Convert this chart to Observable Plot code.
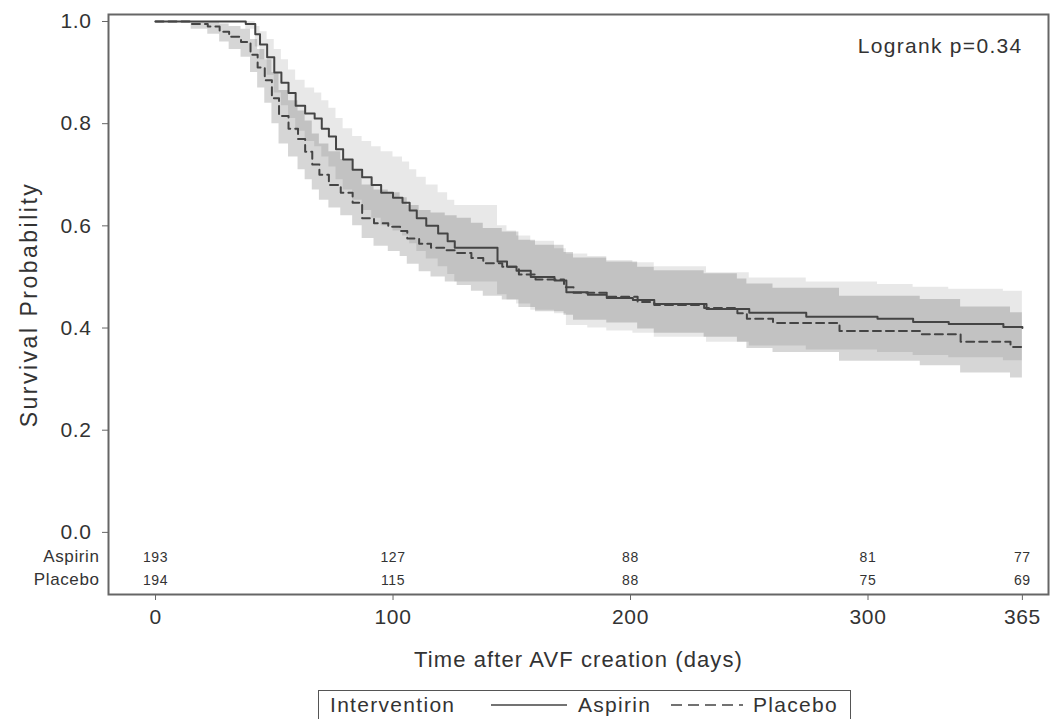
<!DOCTYPE html>
<html><head><meta charset="utf-8">
<script src="https://cdn.jsdelivr.net/npm/d3@7"></script>
<script src="https://cdn.jsdelivr.net/npm/@observablehq/plot@0.6"></script>
<style>
body{margin:0;background:#fff;font-family:Arial,"Liberation Sans",sans-serif;}
#wrap{position:relative;width:1060px;height:719px;overflow:hidden;background:#fff;}
#legend{position:absolute;left:318px;top:690px;width:533px;height:40px;border:1.5px solid #555;box-sizing:border-box;font-size:21px;letter-spacing:1.3px;color:#333;}
#legend span{position:absolute;top:2px;line-height:24px;}
#legend svg{position:absolute;top:0;}
</style></head><body><div id="wrap"></div>
<script>
// Kaplan-Meier estimates
const aspirinDay   = [0, 38, 42, 44, 47, 50, 53, 56, 59, 63, 67, 70, 73, 76, 79, 83, 87, 91, 95, 100, 104, 107, 110, 114, 119, 123, 126, 144, 148, 152, 158, 168, 173, 182, 190, 201, 210, 232, 250, 274, 304, 319, 334, 357, 365];
const aspirinSurv  = [1, 0.995, 0.975, 0.955, 0.93, 0.9, 0.88, 0.86, 0.835, 0.82, 0.81, 0.79, 0.775, 0.75, 0.73, 0.71, 0.695, 0.68, 0.665, 0.655, 0.645, 0.63, 0.615, 0.6, 0.585, 0.57, 0.557, 0.53, 0.52, 0.512, 0.5, 0.493, 0.47, 0.465, 0.459, 0.455, 0.447, 0.437, 0.43, 0.422, 0.418, 0.412, 0.408, 0.402, 0.40];
const aspirinLower = [1, 0.985, 0.95, 0.925, 0.895, 0.86, 0.835, 0.81, 0.785, 0.765, 0.755, 0.735, 0.715, 0.69, 0.67, 0.65, 0.63, 0.615, 0.6, 0.59, 0.58, 0.565, 0.55, 0.535, 0.52, 0.505, 0.49, 0.465, 0.455, 0.447, 0.435, 0.428, 0.405, 0.4, 0.394, 0.39, 0.382, 0.372, 0.365, 0.357, 0.352, 0.346, 0.342, 0.336, 0.333];
const aspirinUpper = [1, 1, 0.99, 0.98, 0.965, 0.945, 0.925, 0.905, 0.885, 0.87, 0.86, 0.845, 0.83, 0.81, 0.79, 0.775, 0.765, 0.755, 0.745, 0.735, 0.725, 0.71, 0.695, 0.68, 0.665, 0.65, 0.64, 0.6, 0.59, 0.58, 0.57, 0.555, 0.545, 0.54, 0.532, 0.528, 0.52, 0.508, 0.498, 0.49, 0.485, 0.48, 0.476, 0.472, 0.47];

const placeboDay   = [0, 15, 22, 27, 31, 36, 40, 43, 46, 49, 52, 56, 60, 63, 66, 69, 73, 78, 83, 87, 92, 98, 103, 106, 111, 116, 122, 127, 133, 138, 146, 153, 160, 172, 176, 190, 203, 210, 231, 245, 249, 260, 288, 322, 339, 360, 365];
const placeboSurv  = [1, 0.995, 0.99, 0.98, 0.97, 0.96, 0.935, 0.91, 0.885, 0.85, 0.815, 0.79, 0.77, 0.745, 0.72, 0.7, 0.68, 0.665, 0.645, 0.615, 0.605, 0.598, 0.59, 0.575, 0.565, 0.557, 0.552, 0.547, 0.537, 0.527, 0.52, 0.505, 0.495, 0.48, 0.469, 0.461, 0.451, 0.445, 0.439, 0.429, 0.418, 0.41, 0.394, 0.388, 0.373, 0.363, 0.36];
const placeboLower = [1, 0.985, 0.975, 0.96, 0.945, 0.93, 0.9, 0.87, 0.84, 0.8, 0.76, 0.735, 0.71, 0.69, 0.67, 0.65, 0.635, 0.62, 0.6, 0.575, 0.56, 0.55, 0.54, 0.525, 0.51, 0.5, 0.49, 0.483, 0.472, 0.462, 0.455, 0.44, 0.432, 0.425, 0.415, 0.41, 0.398, 0.39, 0.382, 0.372, 0.36, 0.352, 0.335, 0.326, 0.312, 0.302, 0.298];
const placeboUpper = [1, 1, 1, 0.995, 0.99, 0.985, 0.965, 0.945, 0.925, 0.9, 0.865, 0.845, 0.825, 0.805, 0.78, 0.76, 0.745, 0.73, 0.71, 0.68, 0.67, 0.665, 0.655, 0.64, 0.63, 0.625, 0.62, 0.615, 0.605, 0.595, 0.588, 0.572, 0.562, 0.548, 0.537, 0.529, 0.519, 0.512, 0.506, 0.496, 0.486, 0.478, 0.462, 0.456, 0.441, 0.43, 0.429];

// Numbers at risk
const riskDays    = [0, 100, 200, 300, 365];
const aspirinRisk = [193, 127, 88, 81, 77];
const placeboRisk = [194, 115, 88, 75, 69];

const xTicks = [0, 100, 200, 300, 365];
const yTicks = [0, 0.2, 0.4, 0.6, 0.8, 1.0];

const aspirin = aspirinDay.map((t, i) => ({t, s: aspirinSurv[i], lo: aspirinLower[i], hi: aspirinUpper[i]}));
const placebo = placeboDay.map((t, i) => ({t, s: placeboSurv[i], lo: placeboLower[i], hi: placeboUpper[i]}));

const ink = "#333";
const chart = Plot.plot({
  width: 1060, height: 680,
  marginLeft: 108, marginRight: 12, marginTop: 14, marginBottom: 86,
  style: {fontFamily: "Arial, 'Liberation Sans', sans-serif", fontSize: "21px", color: ink, background: "white"},
  x: {domain: [-19.8, 376]},
  y: {domain: [-0.1216, 1.0137]},
  marks: [
    Plot.areaY(aspirin, {x: "t", y1: "lo", y2: "hi", curve: "step-after", fill: "#000", fillOpacity: 0.09}),
    Plot.areaY(placebo, {x: "t", y1: "lo", y2: "hi", curve: "step-after", fill: "#000", fillOpacity: 0.16}),
    Plot.line(aspirin, {x: "t", y: "s", curve: "step-after", stroke: "#444", strokeWidth: 2}),
    Plot.line(placebo, {x: "t", y: "s", curve: "step-after", stroke: "#444", strokeWidth: 2, strokeDasharray: "8,5"}),
    Plot.frame({stroke: "#666", strokeWidth: 2}),
    Plot.axisX(xTicks, {tickSize: 6, tickPadding: 9, tickFormat: d => String(d), label: null, fontSize: 21, stroke: "#666"}),
    Plot.axisY(yTicks, {tickSize: 6, tickPadding: 11, tickFormat: d => d.toFixed(1), label: null, fontSize: 21, stroke: "#666"}),
    Plot.text(riskDays, {x: d => d, text: (d, i) => String(aspirinRisk[i]), frameAnchor: "bottom", dy: -33, fontSize: 14, fill: ink}),
    Plot.text(riskDays, {x: d => d, text: (d, i) => String(placeboRisk[i]), frameAnchor: "bottom", dy: -10, fontSize: 14, fill: ink}),
    Plot.text(["Aspirin"], {text: d => d, frameAnchor: "bottom-left", dx: -9, dy: -33, textAnchor: "end", fontSize: 17, fill: ink}),
    Plot.text(["Placebo"], {text: d => d, frameAnchor: "bottom-left", dx: -9, dy: -10, textAnchor: "end", fontSize: 17, fill: ink}),
    Plot.text(["Logrank p=0.34"], {text: d => d, frameAnchor: "top-right", dx: -26, dy: 24, textAnchor: "end", fontSize: 21, fill: ink, className: "wide13"}),
    Plot.text(["Survival Probability"], {text: d => d, frameAnchor: "left", dx: -79, textAnchor: "middle", rotate: -90, fontSize: 23, fill: ink, className: "wide25"}),
    Plot.text(["Time after AVF creation (days)"], {text: d => d, frameAnchor: "bottom", dy: 72, fontSize: 22, fill: ink, className: "wide11"})
  ]
});
chart.querySelectorAll("text").forEach(t => t.style.letterSpacing = "0.6px");
chart.querySelectorAll(".wide13 text").forEach(t => t.style.letterSpacing = "1.3px");
chart.querySelectorAll(".wide11 text").forEach(t => t.style.letterSpacing = "1.1px");
chart.querySelectorAll(".wide25 text").forEach(t => t.style.letterSpacing = "2.5px");
const wrap = document.getElementById("wrap");
wrap.appendChild(chart);

const legend = document.createElement("div");
legend.id = "legend";
legend.innerHTML = `
  <span style="left:11px">Intervention</span>
  <svg style="left:172px" width="76" height="30"><line x1="0" y1="14" x2="76" y2="14" stroke="#444" stroke-width="1.5"/></svg>
  <span style="left:259px">Aspirin</span>
  <svg style="left:352px" width="72" height="30"><line x1="0" y1="14" x2="72" y2="14" stroke="#444" stroke-width="1.5" stroke-dasharray="11,6"/></svg>
  <span style="left:434px">Placebo</span>`;
wrap.appendChild(legend);
</script>
</body></html>
